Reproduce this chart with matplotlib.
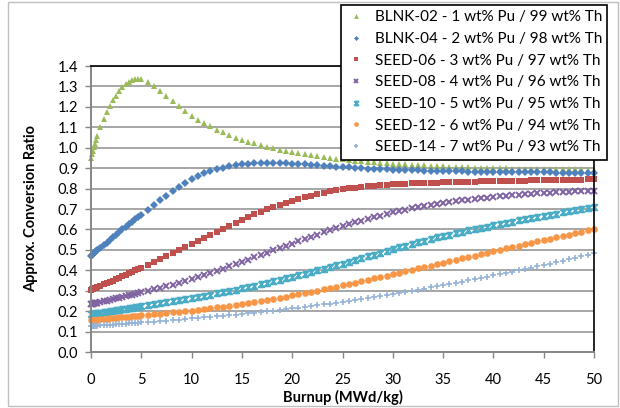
import numpy as np
import matplotlib
matplotlib.use("Agg")
import matplotlib.pyplot as plt
from matplotlib.path import Path
from matplotlib.patches import Rectangle

plt.rcParams['font.family'] = ['Lato', 'DejaVu Sans']

# burnup steps (MWd/kg): short steps early in life, then uniform 0.625 steps to 50
burnup = np.concatenate([[0.0, 0.1, 0.2, 0.3, 0.4, 0.5],
                         np.arange(2, 17) * 0.3125,
                         np.arange(9, 81) * 0.625])

blnk02 = [0.950, 0.968, 0.985, 1.003, 1.020, 1.036,
          1.055, 1.100, 1.140, 1.175, 1.205, 1.232, 1.255, 1.277, 1.295, 1.310,
          1.322, 1.331, 1.336, 1.337, 1.335,
          1.322, 1.302, 1.278, 1.253, 1.228, 1.203, 1.178, 1.155,
          1.137, 1.120, 1.104, 1.089, 1.075, 1.062, 1.050, 1.040,
          1.030, 1.021, 1.013, 1.005, 0.998, 0.991, 0.985, 0.979,
          0.973, 0.968, 0.963, 0.958, 0.954, 0.950, 0.946, 0.943,
          0.940, 0.937, 0.934, 0.931, 0.929, 0.926, 0.924, 0.922,
          0.920, 0.918, 0.916, 0.914, 0.913, 0.911, 0.910, 0.909,
          0.907, 0.906, 0.905, 0.904, 0.903, 0.902, 0.901, 0.900,
          0.900, 0.899, 0.898, 0.898, 0.897, 0.897, 0.896, 0.896,
          0.895, 0.895, 0.895, 0.894, 0.894, 0.894, 0.893, 0.893]

blnk04 = [0.472, 0.476, 0.480, 0.484, 0.488, 0.492,
          0.497, 0.510, 0.523, 0.536, 0.549, 0.562, 0.575, 0.588, 0.600, 0.613,
          0.625, 0.637, 0.649, 0.661, 0.673,
          0.697, 0.720, 0.743, 0.766, 0.788, 0.809, 0.829, 0.847,
          0.862, 0.875, 0.886, 0.895, 0.903, 0.909, 0.914, 0.918,
          0.921, 0.923, 0.925, 0.926, 0.926, 0.925, 0.924, 0.922,
          0.920, 0.918, 0.916, 0.914, 0.912, 0.910, 0.908, 0.906,
          0.904, 0.902, 0.900, 0.898, 0.897, 0.895, 0.894, 0.893,
          0.892, 0.891, 0.890, 0.889, 0.888, 0.887, 0.886, 0.886,
          0.885, 0.884, 0.884, 0.883, 0.883, 0.882, 0.882, 0.881,
          0.881, 0.881, 0.880, 0.880, 0.880, 0.879, 0.879, 0.879,
          0.879, 0.878, 0.878, 0.878, 0.878, 0.877, 0.877, 0.877]

seed06 = [0.305, 0.307, 0.309, 0.311, 0.313, 0.315,
          0.318, 0.324, 0.331, 0.337, 0.344, 0.350, 0.357, 0.364, 0.371, 0.378,
          0.385, 0.392, 0.399, 0.406, 0.413,
          0.427, 0.441, 0.455, 0.469, 0.484, 0.499, 0.514, 0.529,
          0.544, 0.559, 0.574, 0.589, 0.604, 0.619, 0.633, 0.647,
          0.661, 0.674, 0.687, 0.699, 0.710, 0.721, 0.731, 0.741,
          0.750, 0.758, 0.766, 0.773, 0.780, 0.786, 0.792, 0.797,
          0.801, 0.805, 0.809, 0.812, 0.815, 0.817, 0.819, 0.821,
          0.822, 0.824, 0.825, 0.826, 0.827, 0.828, 0.829, 0.830,
          0.831, 0.832, 0.832, 0.833, 0.834, 0.835, 0.835, 0.836,
          0.837, 0.837, 0.838, 0.839, 0.839, 0.840, 0.841, 0.841,
          0.842, 0.842, 0.843, 0.843, 0.844, 0.844, 0.845, 0.845]

seed08 = [0.235, 0.236, 0.237, 0.238, 0.239, 0.240,
          0.242, 0.245, 0.249, 0.252, 0.256, 0.259, 0.263, 0.266, 0.270, 0.273,
          0.277, 0.280, 0.284, 0.288, 0.292,
          0.299, 0.307, 0.314, 0.322, 0.330, 0.338, 0.347, 0.357,
          0.367, 0.377, 0.387, 0.398, 0.408, 0.419, 0.430, 0.441,
          0.452, 0.463, 0.475, 0.486, 0.497, 0.508, 0.519, 0.530,
          0.541, 0.552, 0.563, 0.574, 0.585, 0.595, 0.605, 0.615,
          0.625, 0.634, 0.643, 0.652, 0.660, 0.668, 0.676, 0.683,
          0.690, 0.697, 0.703, 0.709, 0.715, 0.720, 0.725, 0.730,
          0.734, 0.738, 0.742, 0.746, 0.749, 0.753, 0.756, 0.759,
          0.762, 0.765, 0.767, 0.770, 0.772, 0.774, 0.776, 0.778,
          0.780, 0.782, 0.783, 0.785, 0.786, 0.787, 0.788, 0.789]

seed10 = [0.185, 0.185, 0.186, 0.187, 0.188, 0.189,
          0.190, 0.192, 0.195, 0.197, 0.199, 0.202, 0.204, 0.206, 0.209, 0.211,
          0.214, 0.216, 0.219, 0.221, 0.224,
          0.229, 0.234, 0.239, 0.244, 0.249, 0.254, 0.259, 0.264,
          0.270, 0.275, 0.281, 0.287, 0.293, 0.299, 0.305, 0.311,
          0.318, 0.325, 0.332, 0.339, 0.346, 0.353, 0.361, 0.368,
          0.376, 0.384, 0.392, 0.400, 0.408, 0.416, 0.424, 0.432,
          0.441, 0.450, 0.459, 0.468, 0.477, 0.486, 0.495, 0.504,
          0.513, 0.521, 0.529, 0.537, 0.545, 0.553, 0.561, 0.568,
          0.575, 0.582, 0.589, 0.596, 0.602, 0.608, 0.614, 0.620,
          0.626, 0.632, 0.638, 0.644, 0.650, 0.655, 0.661, 0.666,
          0.672, 0.677, 0.683, 0.688, 0.693, 0.698, 0.703, 0.708]

seed12 = [0.155, 0.155, 0.156, 0.156, 0.157, 0.157,
          0.158, 0.160, 0.161, 0.163, 0.164, 0.166, 0.167, 0.169, 0.170, 0.172,
          0.173, 0.175, 0.176, 0.178, 0.179,
          0.182, 0.185, 0.188, 0.191, 0.194, 0.197, 0.200, 0.203,
          0.207, 0.210, 0.214, 0.218, 0.222, 0.226, 0.230, 0.234,
          0.239, 0.244, 0.249, 0.254, 0.259, 0.265, 0.271, 0.277,
          0.283, 0.289, 0.295, 0.301, 0.307, 0.314, 0.320, 0.327,
          0.333, 0.340, 0.347, 0.353, 0.360, 0.367, 0.374, 0.381,
          0.388, 0.395, 0.402, 0.409, 0.416, 0.423, 0.430, 0.437,
          0.444, 0.451, 0.458, 0.465, 0.472, 0.479, 0.486, 0.493,
          0.500, 0.507, 0.514, 0.521, 0.528, 0.534, 0.541, 0.548,
          0.555, 0.561, 0.568, 0.575, 0.581, 0.588, 0.595, 0.601]

seed14 = [0.127, 0.127, 0.128, 0.128, 0.128, 0.129,
          0.129, 0.130, 0.131, 0.132, 0.133, 0.134, 0.136, 0.137, 0.138, 0.139,
          0.140, 0.141, 0.142, 0.144, 0.145,
          0.147, 0.149, 0.151, 0.154, 0.156, 0.159, 0.161, 0.164,
          0.166, 0.169, 0.171, 0.174, 0.177, 0.180, 0.183, 0.186,
          0.189, 0.192, 0.195, 0.199, 0.202, 0.206, 0.209, 0.213,
          0.217, 0.221, 0.225, 0.229, 0.233, 0.237, 0.241, 0.246,
          0.250, 0.255, 0.259, 0.264, 0.269, 0.274, 0.279, 0.284,
          0.289, 0.294, 0.299, 0.305, 0.310, 0.316, 0.321, 0.327,
          0.333, 0.339, 0.345, 0.351, 0.357, 0.363, 0.369, 0.375,
          0.381, 0.387, 0.394, 0.400, 0.406, 0.413, 0.419, 0.426,
          0.432, 0.439, 0.446, 0.454, 0.461, 0.468, 0.476, 0.483]

labels = ['BLNK-02 - 1 wt% Pu / 99 wt% Th',
          'BLNK-04 - 2 wt% Pu / 98 wt% Th',
          'SEED-06 - 3 wt% Pu / 97 wt% Th',
          'SEED-08 - 4 wt% Pu / 96 wt% Th',
          'SEED-10 - 5 wt% Pu / 95 wt% Th',
          'SEED-12 - 6 wt% Pu / 94 wt% Th',
          'SEED-14 - 7 wt% Pu / 93 wt% Th']

# x with bars on top and bottom (hourglass style marker)
hourglass = Path([(-1, 1), (1, -1), (-1, -1), (1, 1), (-1, 1)],
                 [Path.MOVETO, Path.LINETO, Path.LINETO, Path.LINETO, Path.LINETO])

styles = [
    (blnk02, '#9BBB59', '^', 5.0, 0.0),
    (blnk04, '#4F81BD', 'D', 3.6, 0.0),
    (seed06, '#C0504D', 's', 4.6, 0.0),
    (seed08, '#8064A2', 'x', 4.0, 1.4),
    (seed10, '#4BACC6', hourglass, 4.0, 1.4),
    (seed12, '#F79646', 'o', 4.8, 0.0),
    (seed14, '#95B3D7', '+', 4.6, 1.2),
]

fig = plt.figure(figsize=(6.2, 4.08), dpi=100)
fig.patches.append(Rectangle((8 / 620, 2 / 408), 610 / 620, 404 / 408,
                             transform=fig.transFigure, fill=False,
                             edgecolor='#bfbfbf', linewidth=1.0))

ax = fig.add_axes([91 / 620, 56 / 408, 503 / 620, 286 / 408])

handles = []
for (vals, color, marker, ms, mew), label in zip(styles, labels):
    h, = ax.plot(burnup, vals, linestyle='none', marker=marker, markersize=ms,
                 color=color, markeredgewidth=mew, clip_on=False, label=label)
    handles.append(h)

ax.set_xlim(0, 50)
ax.set_ylim(0, 1.4)
ax.set_xticks(np.arange(0, 51, 5))
ax.set_yticks(np.arange(0, 1.41, 0.1))
ax.yaxis.set_major_formatter(matplotlib.ticker.FormatStrFormatter('%.1f'))
ax.grid(axis='y', color='#a6a6a6', linewidth=1.4)
ax.set_axisbelow(True)
ax.tick_params(direction='out', length=4, width=1, color='#868686',
               labelsize=10.5, labelcolor='black', pad=5)
ax.tick_params(axis='x', pad=11)
for side in ['left', 'bottom']:
    ax.spines[side].set_color('#868686')
    ax.spines[side].set_linewidth(1.4)
for side in ['top', 'right']:
    ax.spines[side].set_color('black')
    ax.spines[side].set_linewidth(1.2)

ax.set_xlabel('Burnup (MWd/kg)', fontsize=10.5, fontweight='bold', labelpad=2)
ax.set_ylabel('Approx. Conversion Ratio', fontsize=10.5, fontweight='bold', labelpad=14)

leg = fig.legend(handles=handles, loc='upper left',
                 bbox_to_anchor=(341 / 620, 1 - 5 / 408), fontsize=11,
                 frameon=True, fancybox=False, framealpha=1, edgecolor='black',
                 markerscale=0.7, handlelength=1.3, handletextpad=0.55,
                 labelspacing=0.5, borderpad=0.35, borderaxespad=0)
leg.get_frame().set_linewidth(1.2)

fig.savefig('out.png', dpi=100)
